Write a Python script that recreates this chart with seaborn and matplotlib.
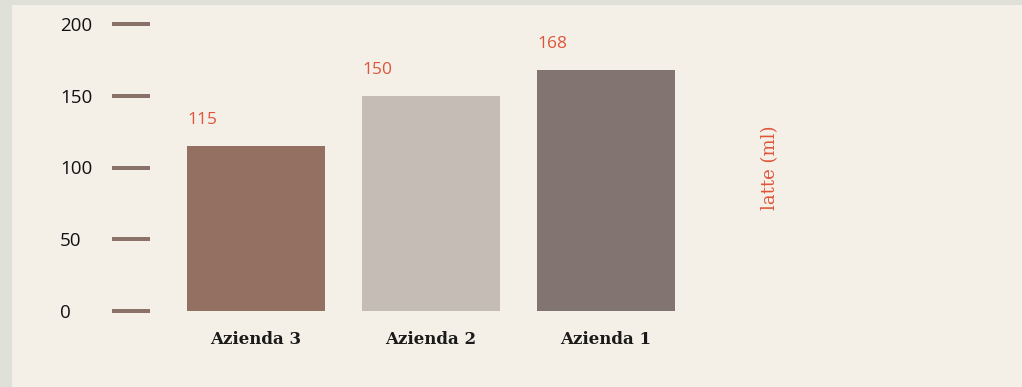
import matplotlib
matplotlib.use("Agg")
import matplotlib.pyplot as plt
import matplotlib.transforms as mtransforms
import seaborn as sns
import pandas as pd
from matplotlib.patches import Rectangle

categories = ["Azienda 3", "Azienda 2", "Azienda 1"]
values = [115, 150, 168]
colors = ["#937062", "#c5bcb6", "#827571"]
yticks = [0, 50, 100, 150, 200]
ylabel = "latte (ml)"

sns.set_theme(style="white")
plt.rcParams["font.family"] = ["Open Sans", "DejaVu Sans"]

W, H = 1022, 387
fig = plt.figure(figsize=(W / 100, H / 100), dpi=100)
fig.patch.set_facecolor("#dfe0d8")
fig.patches.append(Rectangle((12 / W, 0), 1, 1 - 5 / H, transform=fig.transFigure,
                             facecolor="#f4f0e8", edgecolor="none", zorder=-10))

left, right, top, bottom = 150, 1010, 24, 311
ax = fig.add_axes([left / W, 1 - bottom / H, (right - left) / W, (bottom - top) / H])
ax.set_zorder(5)
ax.set_facecolor("none")

df = pd.DataFrame({"cat": categories, "val": values})
sns.barplot(data=df, x="cat", y="val", hue="cat", palette=colors, legend=False,
            width=138 / 175, saturation=1, linewidth=0, ax=ax)

ax.set_ylim(0, 200)
x0 = -(256 - left) / 175
ax.set_xlim(x0, x0 + (right - left) / 175)
ax.set_yticks(yticks)
ax.set_yticklabels([str(t) for t in yticks], ha="left", fontsize=13.5, color="#111111")
shift = mtransforms.ScaledTranslation(0, -3 / 100, fig.dpi_scale_trans)
for lab in ax.get_yticklabels():
    lab.set_transform(lab.get_transform() + shift)
ax.tick_params(axis="y", length=38 * 0.72, width=4 * 0.72, color="#8a7268",
               pad=52 * 0.72, direction="out", left=True)
ax.tick_params(axis="x", length=0, pad=20 * 0.72)
for lab in ax.get_xticklabels():
    lab.set_fontfamily(["DejaVu Serif"])
    lab.set_fontsize(12)
    lab.set_fontweight("bold")
    lab.set_color("#1a1a1a")
for s in ax.spines.values():
    s.set_visible(False)

ax.set_xlabel("")
ax.set_ylabel(ylabel, fontsize=13, color="#e0553a", family=["DejaVu Serif"])
ax.yaxis.set_label_coords((779 - left) / (right - left), 0.5)

bw = 138 / 175
for i, v in enumerate(values):
    ax.annotate(str(v), xy=(i - bw / 2, v), xytext=(0, 13), textcoords="offset points",
                ha="left", va="bottom", fontsize=12.5, color="#e0553a")

fig.savefig("out.png", dpi=100, facecolor=fig.get_facecolor())
